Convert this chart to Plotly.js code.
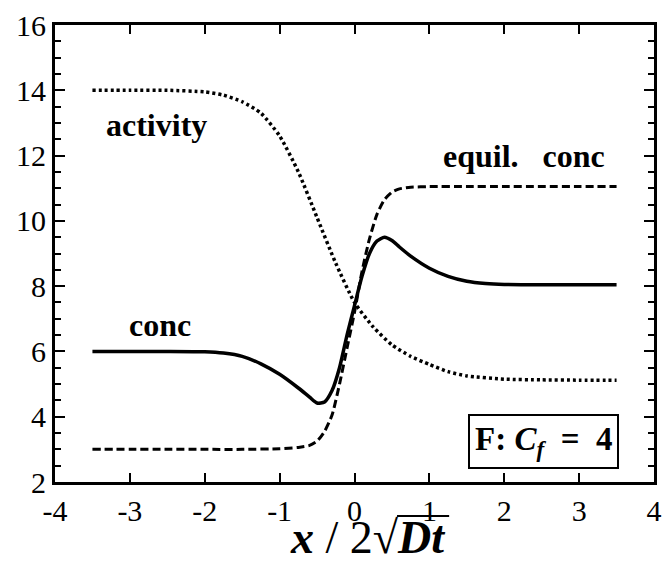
<!DOCTYPE html>
<html>
<head>
<meta charset="utf-8">
<script src="https://cdn.plot.ly/plotly-3.0.1.min.js"></script>
<style>
  html, body { margin: 0; padding: 0; background: #ffffff; }
  #plot { width: 663px; height: 565px; }
</style>
</head>
<body>
<div id="plot"></div>
<script>
// Three profiles across the interface.

const activityX = [-3.5, -3, -2.5, -2, -1.75, -1.5, -1.25, -1, -0.75, -0.5, -0.25, 0, 0.25, 0.5, 0.75, 1, 1.25, 1.5, 2, 2.5, 3, 3.5];
const activityY = [14, 14, 14, 13.95, 13.85, 13.65, 13.3, 12.6, 11.5, 10.1, 8.7, 7.5, 6.75, 6.2, 5.85, 5.6, 5.38, 5.25, 5.15, 5.13, 5.12, 5.12];

const equilX = [-3.5, -3, -2.5, -2, -1.5, -1, -0.75, -0.6, -0.5, -0.4, -0.3, -0.2, -0.1, 0, 0.1, 0.2, 0.3, 0.4, 0.5, 0.6, 0.75, 1, 1.5, 2, 2.5, 3, 3.5];
const equilY = [3, 3, 3, 3, 3, 3.02, 3.06, 3.12, 3.25, 3.55, 4.05, 5.0, 6.1, 7.2, 8.45, 9.45, 10.2, 10.65, 10.88, 10.98, 11.03, 11.05, 11.05, 11.05, 11.05, 11.05, 11.05];

const concX = [-3.5, -3, -2.5, -2, -1.75, -1.5, -1.25, -1, -0.75, -0.6, -0.5, -0.4, -0.3, -0.2, -0.1, 0, 0.1, 0.2, 0.3, 0.4, 0.5, 0.6, 0.75, 1, 1.25, 1.5, 1.75, 2, 2.5, 3, 3.5];
const concY = [6, 6, 6, 5.99, 5.95, 5.85, 5.62, 5.3, 4.88, 4.6, 4.42, 4.45, 4.8, 5.5, 6.5, 7.4, 8.3, 9.0, 9.38, 9.5, 9.4, 9.2, 8.92, 8.55, 8.3, 8.15, 8.08, 8.05, 8.04, 8.04, 8.04];

// the figure prints a plain hyphen for negatives
const xTicks = [-4, -3, -2, -1, 0, 1, 2, 3, 4];
const xTickText = ['-4', '-3', '-2', '-1', '0', '1', '2', '3', '4'];

// curve labels: [text, x, y]
const curveLabels = [
  ['<b>activity</b>', -2.65, 12.95],
  ['<b>conc</b>', -2.6, 6.8],
  ['<b>equil.\u00a0\u00a0\u00a0conc</b>', 2.27, 12.0],
];
const panelLabel = '<b>F:\u00a0<i>C</i><sub><i>f</i></sub>\u00a0\u00a0=\u00a0\u00a04</b>';
const xTitle = '<b><i>x</i></b> / 2√<b><i>Dt</i></b>';

const SERIF = '"Liberation Serif", "Times New Roman", Times, serif';
const BLACK = '#000000';

function curve(x, y, dash, width) {
  return {
    x, y,
    mode: 'lines',
    line: { color: BLACK, width, dash, shape: 'spline', smoothing: 0.6 },
    hoverinfo: 'skip',
    showlegend: false,
  };
}

const traces = [
  curve(activityX, activityY, '3px,3px', 3.5),
  curve(equilX, equilY, '8px,4px', 3),
  curve(concX, concY, 'solid', 3.5),
];

const axisBase = {
  showgrid: false,
  zeroline: false,
  showline: true,
  linecolor: BLACK,
  linewidth: 3,
  mirror: 'ticks',
  ticks: 'inside',
  tickcolor: BLACK,
  tickwidth: 2,
  tickfont: { family: SERIF, size: 30, color: BLACK },
};

const annotations = curveLabels.map(([text, x, y]) => ({
  text, x, y, xref: 'x', yref: 'y', showarrow: false,
  font: { family: SERIF, size: 32, color: BLACK },
}));
annotations.push({
  text: panelLabel, x: 2.52, y: 3.25, xref: 'x', yref: 'y', showarrow: false,
  font: { family: SERIF, size: 33, color: BLACK },
  bordercolor: BLACK, borderwidth: 2, borderpad: 5, bgcolor: '#ffffff',
});
// axis title, placed as an annotation so it can sit right of centre like the figure
annotations.push({
  text: xTitle, x: 0.5225, y: -0.1816, xref: 'paper', yref: 'paper',
  xanchor: 'center', yanchor: 'bottom', showarrow: false,
  font: { family: SERIF, size: 46, color: BLACK },
});

const layout = {
  width: 663,
  height: 565,
  paper_bgcolor: '#ffffff',
  plot_bgcolor: '#ffffff',
  margin: { l: 55, r: 9, t: 25, b: 83 },
  xaxis: {
    ...axisBase,
    range: [-4, 4],
    tickvals: xTicks,
    ticktext: xTickText,
    ticklen: 9,
  },
  yaxis: {
    ...axisBase,
    range: [2, 16],
    tick0: 2,
    dtick: 2,
    ticklen: 10,
    minor: { dtick: 0.5, ticks: 'inside', ticklen: 6, tickcolor: BLACK, tickwidth: 2 },
  },
  annotations,
  shapes: [
    {
      // vinculum of the square root
      type: 'line', xref: 'paper', yref: 'paper',
      x0: 0.571, x1: 0.658, y0: -0.0744, y1: -0.0744,
      line: { color: BLACK, width: 2 },
    },
  ],
};

Plotly.newPlot('plot', traces, layout, { displayModeBar: false, staticPlot: true });
</script>
</body>
</html>
